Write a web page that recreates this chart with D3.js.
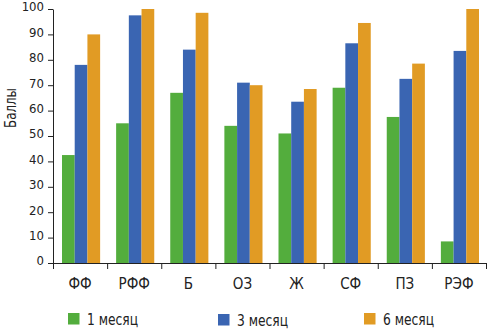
<!DOCTYPE html>
<html>
<head>
<meta charset="utf-8">
<script src="https://cdn.jsdelivr.net/npm/d3@7"></script>
<style>
  body { margin: 0; background: #fff; }
  svg text { font-family: "DejaVu Sans Condensed", "DejaVu Sans", sans-serif; font-stretch: condensed; fill: #222; }
</style>
</head>
<body>
<div id="chart"></div>
<script>
// categories and series
var categories = ["ФФ", "РФФ", "Б", "ОЗ", "Ж", "СФ", "ПЗ", "РЭФ"];
var seriesNames = ["1 месяц", "3 месяц", "6 месяц"];
var month1 = [42.5, 55, 67, 54, 51, 69, 57.5, 8.5];
var month3 = [78, 97.5, 84, 71, 63.5, 86.5, 72.5, 83.5];
var month6 = [90, 100, 98.5, 70, 68.5, 94.5, 78.5, 100];
var yTicks = [0, 10, 20, 30, 40, 50, 60, 70, 80, 90, 100];
var colors = ["#53ad3d", "#3a65b2", "#e19b24"];

var W = 487, H = 330;
var margin = {top: 9, right: 1, bottom: 67, left: 53},
    width = W - margin.left - margin.right,
    height = H - margin.top - margin.bottom;

var svg = d3.select("#chart")
  .append("svg")
    .attr("width", W)
    .attr("height", H)
  .append("g")
    .attr("transform", "translate(" + margin.left + "," + margin.top + ")");

var series = [month1, month3, month6];
var rows = categories.map(function(c, i) {
  return {cat: c, vals: series.map(function(s, k) { return {k: k, v: s[i]}; })};
});

// X scales
var x = d3.scaleBand()
  .domain(categories)
  .range([0, width]);

var xSub = d3.scaleBand()
  .domain([0, 1, 2])
  .range([9, x.bandwidth() - 7]);

// Y scale
var y = d3.scaleLinear()
  .domain([0, 100])
  .range([height, 0]);

// bars
var groups = svg.selectAll(".grp")
  .data(rows)
  .enter()
  .append("g")
    .attr("transform", function(d) { return "translate(" + x(d.cat) + ",0)"; });

groups.selectAll("rect")
  .data(function(d) { return d.vals; })
  .enter()
  .append("rect")
    .attr("x", function(d) { return xSub(d.k); })
    .attr("width", xSub.bandwidth())
    .attr("y", function(d) { return y(d.v); })
    .attr("height", function(d) { return height - y(d.v); })
    .attr("fill", function(d) { return colors[d.k]; });

// Y axis
var yAxis = svg.append("g")
  .call(d3.axisLeft(y).tickValues(yTicks).tickSize(5).tickSizeOuter(0).tickPadding(4));
yAxis.selectAll("text").style("font-size", "13px").attr("dy", "0.15em");

// X axis: tick marks on band edges, labels at centres
var xEdge = d3.scaleLinear().domain([0, categories.length]).range([0, width]);
svg.append("g")
  .attr("transform", "translate(0," + height + ")")
  .call(d3.axisBottom(xEdge).ticks(categories.length).tickSize(6).tickSizeOuter(0).tickFormat(""));

var xAxis = svg.append("g")
  .attr("transform", "translate(0," + height + ")")
  .call(d3.axisBottom(x).tickSize(0).tickPadding(15));
xAxis.select(".domain").remove();
xAxis.selectAll("text").style("font-size", "15px");

svg.selectAll(".domain").attr("stroke", "#222");
svg.selectAll(".tick line").attr("stroke", "#222");

// Y label
svg.append("text")
  .attr("transform", "rotate(-90)")
  .attr("x", -(108 - margin.top))
  .attr("y", 16 - margin.left)
  .attr("text-anchor", "middle")
  .attr("textLength", 40)
  .attr("lengthAdjust", "spacingAndGlyphs")
  .style("font-size", "15px")
  .text("Баллы");

// legend (positions in page coords)
var legendPos = [[68, 313], [218, 314], [364, 313]];
var legend = d3.select("#chart svg").selectAll(".leg")
  .data(seriesNames)
  .enter()
  .append("g")
    .attr("transform", function(d, i) { return "translate(" + legendPos[i][0] + "," + legendPos[i][1] + ")"; });

legend.append("rect")
  .attr("width", 11.5)
  .attr("height", 11.5)
  .attr("fill", function(d, i) { return colors[i]; });

legend.append("text")
  .attr("x", 19)
  .attr("y", 12)
  .attr("textLength", 51)
  .attr("lengthAdjust", "spacingAndGlyphs")
  .style("font-size", "16px")
  .text(function(d) { return d; });
</script>
</body>
</html>
